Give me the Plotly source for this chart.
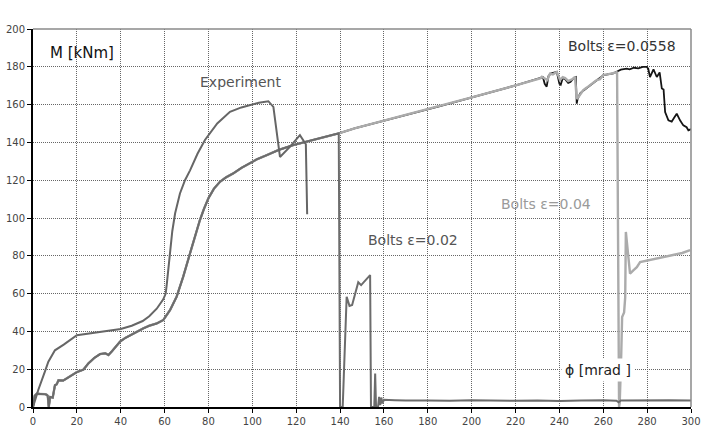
import plotly.graph_objects as go

# ---- Experiment curve ----
exp_x = [0, 1, 2.4, 5.5, 7, 10, 14, 20, 25, 30, 40, 45, 50, 53, 56.4, 59.4, 60.5, 61, 61.8,
         62.5, 63.5, 64.8, 67, 69.3, 71.6, 75, 78.4, 84, 89.8, 95, 99.7, 103, 107.3, 109.6,
         112.6, 117, 121.7, 123.3, 124.4, 125]
exp_y = [0, 4, 9, 19, 24, 30, 33, 38, 38.8, 39.5, 41.3, 43, 45.5, 48, 52, 57, 60, 65, 74,
         83, 93, 102.5, 113, 120, 125.2, 134, 141.3, 150, 156.2, 158.5, 160.2, 161, 161.8, 158.8,
         132.3, 137.5, 143.8, 141.1, 139, 102]

# ---- Shared FE path (all bolt models coincide up to ~140 mrad) ----
fe_x = [0, 0.8, 1.7, 3.2, 5.5, 6.2, 6.7, 7.2, 7.8, 9, 10, 10.8, 11.6, 13.8, 17.6, 20, 23,
        25.2, 28, 30.6, 33, 34.4, 36, 39.7, 42, 45.8, 50.3, 53, 56.4, 59.4, 62.5, 65.5, 68.5,
        71.6, 74, 76.1, 78, 80, 82.5, 85.3, 88, 91.3, 95, 98.9, 102, 106.6, 112, 118.7, 125,
        130.9, 135, 139.4]
fe_y = [0, 6, 7, 7, 6.8, 6.5, 6, 0, 5.3, 5, 11.5, 12, 14.1, 14, 16.8, 18.5, 19.8,
        23, 26, 28, 28.4, 27.5, 29.5, 34.6, 36.5, 39, 41.6, 43, 44.2, 46, 51.3, 58.4, 69,
        81.3, 91, 98.9, 105, 110.5, 115.5, 119.2, 121.5, 123.6, 126.5, 128.9, 131, 133.3, 136,
        138.6, 140.5, 142.2, 143.5, 144.8]

# ---- Bolts eps=0.02 after failure ----
b02_x = [140, 141.2, 143, 144.3, 145.5, 146.8, 148.3, 149.6, 151.5, 153.7, 154.1, 155.6, 156,
         156.4, 157.3, 157.8, 158.3, 158.8, 159.3, 160, 165, 170, 180, 190, 200, 210, 220, 230,
         240, 250, 260, 266, 267, 268, 275, 280, 290, 300]
b02_y = [0, 0, 58.3, 53.5, 54, 60, 66, 64.5, 67, 69.8, 0, 0, 17.7,
         0, 0, 5.3, 1, 5, 2, 3.8, 3.6, 3.4, 3.5, 3.3, 3.6, 3.4, 3.3, 3.5,
         3.2, 3.4, 3.6, 3.3, 2.5, 3.4, 3.5, 3.3, 3.6, 3.4]

# ---- Bolts eps=0.04 after 140 mrad ----
b04_x = [146.6, 160, 185.6, 200, 220.5, 231.2, 232, 233.5, 234.5, 235.7, 237, 238.8, 240.3,
         241.5, 242.6, 244, 244.9, 246, 247.1, 247.9, 248.7, 250, 250.9, 252.5, 254, 255.5, 257,
         258.5, 260, 262, 264.6, 265.8, 266.3, 267.2, 267.5, 268.2, 268.6, 269.5, 270, 270.3,
         271, 272.2, 273.7, 275.3, 276.8, 280, 284.4, 288, 292, 296, 299.6]
b04_y = [147.4, 151.5, 159.2, 163.8, 170.3, 173.9, 174.7, 173.5, 173, 176.4, 176, 177.3, 173,
         174.5, 174, 172.5, 173, 173.5, 174.7, 163, 164, 166.5, 167.7, 169, 170.3, 171.5, 173,
         173.5, 175.7, 176, 176.5, 177, 177.4, 0, 2, 28, 47.6, 50, 58, 92.6,
         84.7, 70.6, 72.3, 74, 76.7, 77.5, 78.5, 79.4, 80.3, 81.5, 83]

# ---- Bolts eps=0.0558 after 140 mrad ----
b0558_x = [146.6, 185.6, 220.5, 231.2, 232.5, 233.3, 234.2, 235, 236, 238.8, 240, 240.6, 241.5,
           242.6, 244, 245, 246.5, 247.5, 247.9, 248.3, 249.5, 251, 254, 257, 260, 262, 264.6,
           266.1, 268, 270.7, 272, 274, 276, 278, 279.8, 280.5, 281.3, 282.9, 284.4, 285.7,
           286.7, 287.5, 288.2, 289.7, 291.2, 292.3, 293.5, 295, 296.5, 298, 298.8, 300]
b0558_y = [147.4, 159.2, 170.3, 173.9, 174.5, 171, 169.5, 175, 176.4, 177.3, 171, 170.5, 174,
           173.5, 171.5, 172, 174, 174.5, 160.5, 163, 166, 167.5, 170.3, 173, 175.5, 176, 176.5,
           177.4, 178.5, 179, 178.7, 179.5, 179.2, 180, 180, 179, 174.6, 178.7, 174.6, 177,
           168.5, 168, 156, 151.7, 151, 153, 155.2, 151.7, 149, 148, 146.4, 147]

x_ticks = list(range(0, 301, 20))
y_ticks = list(range(0, 201, 20))

FONT = "DejaVu Sans, Liberation Sans, Arial"

fig = go.Figure()
fig.add_trace(go.Scatter(x=fe_x + b0558_x, y=fe_y + b0558_y, mode="lines",
                         line=dict(color="#151515", width=1.8), hoverinfo="skip"))
fig.add_trace(go.Scatter(x=fe_x + b04_x, y=fe_y + b04_y, mode="lines",
                         line=dict(color="#ababab", width=2.4), hoverinfo="skip"))
fig.add_trace(go.Scatter(x=fe_x + b02_x, y=fe_y + b02_y, mode="lines",
                         line=dict(color="#6c6c6c", width=2), hoverinfo="skip"))
fig.add_trace(go.Scatter(x=exp_x, y=exp_y, mode="lines",
                         line=dict(color="#666666", width=2), hoverinfo="skip"))

ann = [
    dict(x=6.8, y=187.1, text="M [kNm]", xanchor="left", color="#111", size=15),
    dict(x=94.6, y=172, text="Experiment", xanchor="center", color="#555", size=14),
    dict(x=268.4, y=190.8, text="Bolts ε=0.0558", xanchor="center", color="#333", size=14),
    dict(x=233.8, y=107.6, text="Bolts ε=0.04", xanchor="center", color="#9a9a9a", size=14),
    dict(x=173.4, y=88.2, text="Bolts ε=0.02", xanchor="center", color="#555", size=14),
]
for a in ann:
    fig.add_annotation(x=a["x"], y=a["y"], text=a["text"], showarrow=False,
                       xanchor=a["xanchor"], yanchor="middle",
                       font=dict(family=FONT, size=a["size"], color=a["color"]))
fig.add_annotation(x=257.4, y=19.4, text="ϕ [mrad ]", showarrow=False,
                   xanchor="center", yanchor="middle", bgcolor="white", borderpad=3,
                   font=dict(family=FONT, size=14, color="#222"))

# top/right light frame
fig.add_shape(type="line", xref="paper", yref="paper", x0=0, x1=1, y0=1, y1=1,
              line=dict(color="#8a8a8a", width=1.5), layer="above")
fig.add_shape(type="line", xref="paper", yref="paper", x0=1, x1=1, y0=0, y1=1,
              line=dict(color="#8a8a8a", width=1.5), layer="above")

axis_common = dict(showgrid=True, gridcolor="#666666", gridwidth=1, griddash="1px,1px",
                   showline=True, linecolor="black", linewidth=2, ticks="outside",
                   ticklen=4, tickcolor="black", zeroline=False, automargin=False,
                   tickfont=dict(family=FONT, size=10, color="#444"))
fig.update_xaxes(range=[0, 300], tickvals=x_ticks, **axis_common)
fig.update_yaxes(range=[0, 200], tickvals=y_ticks, **axis_common)

fig.update_layout(width=701, height=427, margin=dict(l=33, r=10, t=29, b=20),
                  paper_bgcolor="white", plot_bgcolor="white", showlegend=False,
                  hovermode=False)
fig.write_html("out.html")
